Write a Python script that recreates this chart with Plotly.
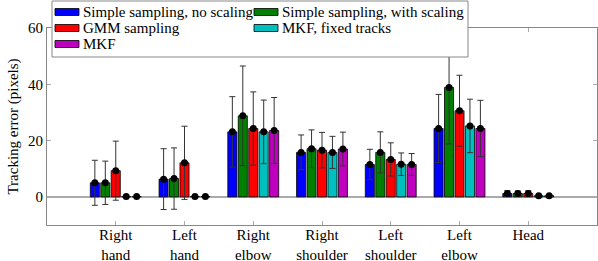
import plotly.graph_objects as go

categories = ["Right<br>hand", "Left<br>hand", "Right<br>elbow", "Right<br>shoulder",
              "Left<br>shoulder", "Left<br>elbow", "Head"]
series_names = ["Simple sampling, no scaling", "Simple sampling, with scaling",
                "GMM sampling", "MKF, fixed tracks", "MKF"]
series_colors = ["#0000FF", "#008000", "#FF0000", "#00BFBF", "#BF00BF"]

simple_noscale = [5.0, 6.3, 23.1, 15.8, 11.5, 24.3, 1.2]
simple_noscale_err = [8.0, 10.8, 12.5, 6.2, 5.4, 12.1, 1.0]
simple_scale = [5.0, 6.5, 28.8, 17.1, 15.8, 38.9, 1.2]
simple_scale_err = [7.7, 10.9, 17.7, 6.7, 7.3, 20.1, 0.9]
gmm = [9.3, 12.1, 24.3, 16.6, 13.3, 30.6, 1.2]
gmm_err = [10.5, 13.0, 13.0, 6.3, 5.9, 12.6, 1.0]
mkf_fixed = [0.1, 0.1, 23.1, 15.8, 11.6, 25.2, 0.4]
mkf_fixed_err = [0.0, 0.0, 11.3, 5.7, 4.0, 9.5, 0.3]
mkf = [0.1, 0.1, 23.6, 17.0, 11.5, 24.3, 0.4]
mkf_err = [0.0, 0.0, 11.7, 6.0, 3.9, 10.0, 0.3]

values = [simple_noscale, simple_scale, gmm, mkf_fixed, mkf]
errors = [simple_noscale_err, simple_scale_err, gmm_err, mkf_fixed_err, mkf_err]

FONT = "Liberation Serif, Times New Roman, serif"
W, H = 598, 261
ML, MR, MT, MB = 47, 1, 28, 36
PW, PH = W - ML - MR, H - MT - MB

pitch = 0.152
bar_w = 0.132
idx = list(range(len(categories)))

fig = go.Figure()
for k, (vals, errs, col, name) in enumerate(zip(values, errors, series_colors, series_names)):
    xs = [i + (k - 2) * pitch for i in idx]
    fig.add_trace(go.Bar(x=xs, y=vals, width=bar_w, marker=dict(color=col, line=dict(color="#000", width=0.8)),
                         name=name, showlegend=False, hoverinfo="skip"))
for k, (vals, errs) in enumerate(zip(values, errors)):
    xs = [i + (k - 2) * pitch for i in idx]
    fig.add_trace(go.Scatter(x=xs, y=vals, mode="markers",
                             marker=dict(color="#000", size=7),
                             error_y=dict(type="data", array=errs, visible=True, color="#333",
                                          thickness=1, width=3),
                             showlegend=False, hoverinfo="skip"))

# custom legend (pgfplots style)
def px2x(px):
    return (px - ML) / PW

def py2y(py):
    return (H - MB - py) / PH

shapes = [dict(type="rect", xref="paper", yref="paper", x0=px2x(52), x1=px2x(468),
               y0=py2y(57), y1=py2y(1), fillcolor="white", line=dict(color="#888", width=1), layer="above")]
annotations = []
cols_x = [55, 254]
rows_y = [12, 28, 44]
for k, (name, col) in enumerate(zip(series_names, series_colors)):
    r, c = divmod(k, 2)
    sx, sy = cols_x[c], rows_y[r]
    shapes.append(dict(type="rect", xref="paper", yref="paper", x0=px2x(sx), x1=px2x(sx + 24),
                       y0=py2y(sy + 3.5), y1=py2y(sy - 3.5), fillcolor=col,
                       line=dict(color="#000", width=0.8), layer="above"))
    annotations.append(dict(x=px2x(sx + 26), y=py2y(sy), xref="paper", yref="paper", text=name,
                            showarrow=False, xanchor="left", yanchor="middle",
                            font=dict(family=FONT, size=15, color="#000")))

fig.update_layout(
    width=W, height=H, margin=dict(l=ML, r=MR, t=MT, b=MB, autoexpand=False),
    paper_bgcolor="white", plot_bgcolor="white",
    barmode="overlay", shapes=shapes, annotations=annotations,
    font=dict(family=FONT, size=15, color="#000"),
)
fig.update_xaxes(range=[-1, 7], tickvals=idx, ticktext=categories, ticks="inside", ticklen=4,
                 tickcolor="#aaa", showline=True, linecolor="#888", mirror="ticks", showgrid=False,
                 zeroline=False, tickfont=dict(family=FONT, size=15), automargin=False,
                 ticklabelstandoff=-4)
fig.update_yaxes(range=[-10, 60], tickvals=[0, 20, 40, 60], ticks="inside", ticklen=4,
                 tickcolor="#aaa", showline=True, linecolor="#888", mirror="ticks", showgrid=False,
                 zeroline=True, zerolinecolor="#aaa", zerolinewidth=1.5, automargin=False,
                 title=dict(text="Tracking error (pixels)", font=dict(family=FONT, size=15), standoff=5),
                 tickfont=dict(family=FONT, size=15))

fig.write_html("out.html", config={"displayModeBar": False},
               post_script="document.body.style.margin='0';")
